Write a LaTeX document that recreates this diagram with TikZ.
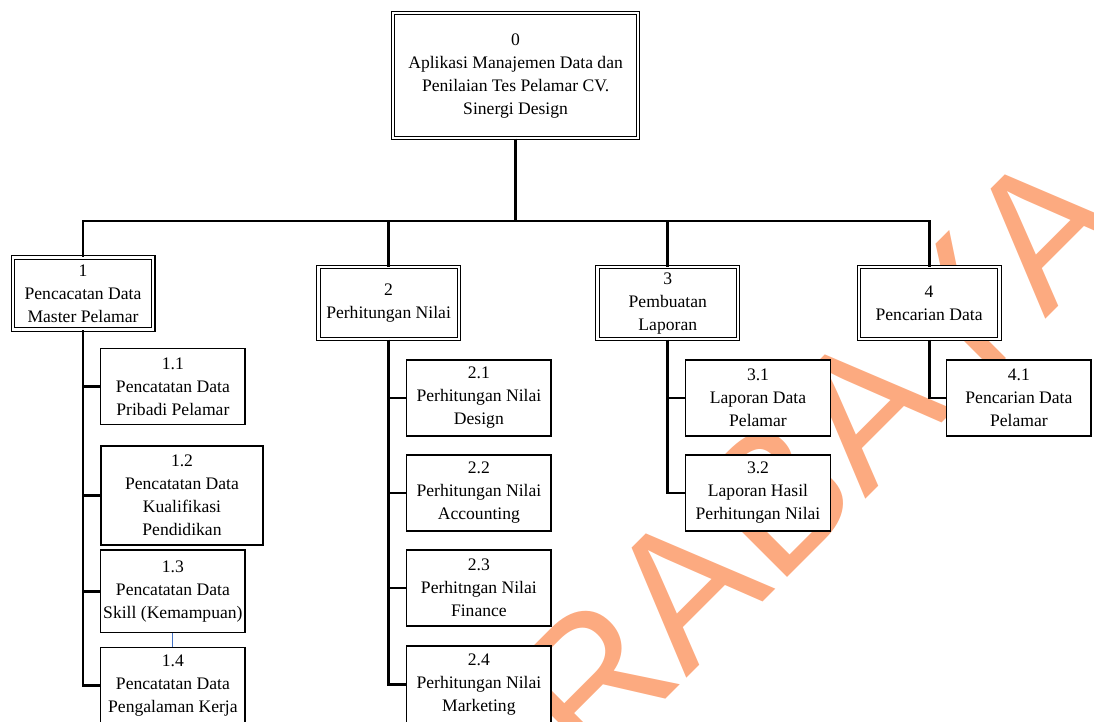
\documentclass[tikz,border=0pt]{standalone}
\usepackage{fontspec}
\setmainfont{Liberation Serif}
\newfontfamily\wmfont[Kerning=Off]{Liberation Sans}
\definecolor{wmorange}{RGB}{252,170,128}
\definecolor{linkblue}{RGB}{68,114,196}
\begin{document}
\begin{tikzpicture}[x=1pt,y=-1pt,
  every node/.style={font=\fontsize{17.6}{23}\selectfont, align=center, inner sep=0pt},
  topbox/.style={draw, fill=white, line width=1.1pt, double, double distance=2.3pt,
    minimum width=244.8pt, minimum height=124.8pt},
  procbox/.style={draw, fill=white, line width=1.1pt, double, double distance=2.3pt,
    minimum width=140.5pt, minimum height=72pt},
  subbox/.style={draw, fill=white, line width=1.2pt, minimum width=144.3pt, minimum height=76pt},
  conn/.style={draw, line width=2.8pt, line join=miter},
  thinlink/.style={draw=linkblue, line width=0.9pt}]
\useasboundingbox (0,0) rectangle (1094,722);

% background watermark
\begin{scope}
  \clip (0,0) rectangle (1094,722);
  \node[anchor=base west, rotate=45, text=wmorange,
        font=\wmfont\fontsize{190}{190}\selectfont] (wm) at (403,962) {SURABAYA};
\end{scope}

% root process
\node[topbox] (p0) at (515.6,75.6) {0\\Aplikasi Manajemen Data dan\\Penilaian Tes Pelamar CV.\\Sinergi Design};

% level 1 processes
\node[procbox] (p1) at (83,293.5) {1\\Pencacatan Data\\Master Pelamar};
\node[procbox] (p2) at (388.6,303.1) {2\\Perhitungan Nilai};
\node[procbox] (p3) at (667.8,303.1) {3\\Pembuatan\\Laporan};
\node[procbox] (p4) at (929.1,303.2) {4\\Pencarian Data};

% level 2 processes
\node[subbox] (p11) at (172.9,386.7) {1.1\\Pencatatan Data\\Pribadi Pelamar};
\node[subbox, minimum width=162pt, minimum height=99pt] (p12) at (182,495.5) {1.2\\Pencatatan Data\\Kualifikasi\\Pendidikan};
\node[subbox, minimum height=82.3pt] (p13) at (172.9,591.2) {1.3\\Pencatatan Data\\Skill (Kemampuan)};
\node[subbox] (p14) at (172.9,685.3) {1.4\\Pencatatan Data\\Pengalaman Kerja};

\node[subbox] (p21) at (478.9,397.9) {2.1\\Perhitungan Nilai\\Design};
\node[subbox] (p22) at (478.9,493) {2.2\\Perhitungan Nilai\\Accounting};
\node[subbox] (p23) at (478.9,588) {2.3\\Perhitngan Nilai\\Finance};
\node[subbox, minimum height=77pt] (p24) at (478.9,684.4) {2.4\\Perhitungan Nilai\\Marketing};

\node[subbox] (p31) at (758,397.9) {3.1\\Laporan Data\\Pelamar};
\node[subbox] (p32) at (758,493) {3.2\\Laporan Hasil\\Perhitungan Nilai};

\node[subbox] (p41) at (1018.9,397.9) {4.1\\Pencarian Data\\Pelamar};

% connectors
\coordinate (bus) at (515.6,221);
\path[conn] (p0.south) -- (bus);
\path[conn] (p1.north) |- (bus);
\path[conn] (p4.north) |- (bus);
\path[conn] (p2.north) -- (p2.north |- bus);
\path[conn] (p3.north) -- (p3.north |- bus);

\path[conn] (p1.south) |- (p14.west);
\path[conn] (p1.south |- p11.west) -- (p11.west);
\path[conn] (p1.south |- p12.west) -- (p12.west);
\path[conn] (p1.south |- p13.west) -- (p13.west);

\path[conn] (p2.south) |- (p24.west);
\path[conn] (p2.south |- p21.west) -- (p21.west);
\path[conn] (p2.south |- p22.west) -- (p22.west);
\path[conn] (p2.south |- p23.west) -- (p23.west);

\path[conn] (p3.south) |- (p32.west);
\path[conn] (p3.south |- p31.west) -- (p31.west);

\path[conn] (p4.south) |- (p41.west);

\path[thinlink] (p13.south) -- (p14.north);
\end{tikzpicture}
\end{document}
